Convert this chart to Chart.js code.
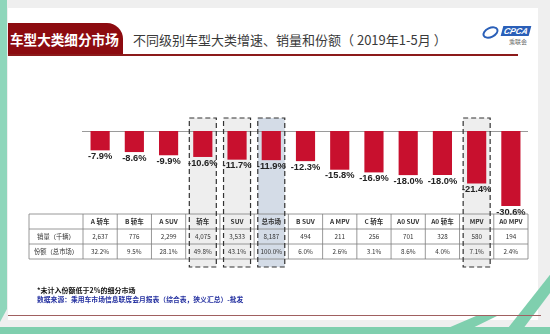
<!DOCTYPE html>
<html>
<head>
<meta charset="utf-8">
<script src="https://cdn.jsdelivr.net/npm/chart.js@4.4.1/dist/chart.umd.min.js"></script>
<style>
  html, body { margin: 0; padding: 0; }
  body { width: 550px; height: 334px; position: relative; overflow: hidden; background: #efefef;
         font-family: "Noto Sans CJK SC", "Noto Sans", sans-serif; }
  #slide { position: absolute; left: 8px; top: 8px; width: 530px; height: 312px; background: #fff; }
  #leftbar { position: absolute; left: 0; top: 0; width: 7px; height: 322px; background: #8fd6bb;
             clip-path: polygon(0 0, 100% 0, 100% 96%, 0 100%); }
  #bottombar { position: absolute; left: 0; top: 327px; width: 550px; height: 7px; background: #7fcfae; }
  .stripe { position: absolute; background: #7fcfae; }
  #tag { position: absolute; left: 8px; top: 23px; width: 115px; height: 32px; background: #8c0b10;
         border-radius: 0 16px 0 0; color: #fff; font-weight: bold; font-size: 13.6px;
         line-height: 32px; padding-left: 2px; box-sizing: border-box; white-space: nowrap; }
  #title { position: absolute; left: 133px; top: 30px; font-size: 13px; color: #3a3a3a; white-space: nowrap; }
  #rule { position: absolute; left: 8px; top: 54px; width: 510px; height: 1.5px; background: #8c1a1a; }
  #foot { position: absolute; left: 8px; top: 315px; width: 533px; height: 1.2px; background: #a06060; }
  #logo { position: absolute; left: 482px; top: 24px; width: 50px; height: 24px; }
  #logo .swirl { position: absolute; left: 0; top: 3px; width: 17px; height: 11px; border: 2px solid #2a5fb8;
                 border-radius: 50%; transform: rotate(-25deg); box-sizing: border-box; }
  #logo .cpca { position: absolute; left: 20px; top: 2px; width: 28px; height: 10px; background: #2a5fb8;
                transform: skewX(-15deg); color: #fff; font: italic bold 8.5px "Liberation Sans", sans-serif;
                text-align: center; line-height: 10px; }
  #logo .cn { position: absolute; left: 27px; top: 13px; font-size: 6px; color: #666; }
  canvas { position: absolute; left: 0; top: 0; }
</style>
</head>
<body>
<div id="slide"></div>
<div id="leftbar"></div>
<div class="stripe" style="left:470px;top:262px;width:90px;height:80px;clip-path:polygon(30% 100%, 100% 0, 100% 22%, 48% 100%);"></div>
<div class="stripe" style="left:420px;top:300px;width:140px;height:40px;clip-path:polygon(0 100%, 40% 40%, 55% 40%, 20% 100%);"></div>
<div id="bottombar"></div>
<div id="tag">车型大类细分市场</div>
<div id="title">不同级别车型大类增速、销量和份额（ 2019年1-5月 ）</div>
<div id="rule"></div>
<div id="foot"></div>
<div id="logo"><div class="swirl"></div><div class="cpca">CPCA</div><div class="cn">乘联会</div></div>
<canvas id="chart" width="550" height="334"></canvas>
<script>
// ── DATA ─────────────────────────────────────────
const categories = ["A 轿车", "B 轿车", "A SUV", "轿车", "SUV", "总市场", "B SUV",
                    "A MPV", "C 轿车", "A0 SUV", "A0 轿车", "MPV", "A0 MPV"];
const growth     = [-7.9, -8.6, -9.9, -10.6, -11.7, -11.9, -12.3,
                    -15.8, -16.9, -18.0, -18.0, -21.4, -30.6];
const sales      = ["2,637", "776", "2,299", "4,075", "3,533", "8,187", "494",
                    "211", "256", "701", "328", "580", "194"];
const shares     = ["32.2%", "9.5%", "28.1%", "49.8%", "43.1%", "100.0%", "6.0%",
                    "2.6%", "3.1%", "8.6%", "4.0%", "7.1%", "2.4%"];
const rowLabels  = ["销量（千辆）", "份额（总市场）"];
const boxed      = ["轿车", "SUV", "总市场", "MPV"];
const totalCat   = "总市场";
const footNotes  = ["*未计入份额低于2%的细分市场",
                    "数据来源：乘用车市场信息联席会月报表（综合表，狭义汇总）-批发"];

const CJK = '"Noto Sans CJK SC", "Noto Sans", sans-serif';

// ── BOXES + ZERO LINE (behind bars) ──────────────
const backdrop = {
  id: "backdrop",
  beforeDatasetsDraw(chart) {
    const { ctx, scales: { x, y } } = chart;
    ctx.save();
    boxed.forEach(c => {
      const cx = x.getPixelForValue(categories.indexOf(c));
      ctx.fillStyle = c === totalCat ? "#d4dce7" : "#eeeeee";
      ctx.fillRect(cx - 13.5, 118, 27, 149);
    });
    ctx.strokeStyle = "#9a9a9a";
    ctx.lineWidth = 1;
    const y0 = Math.round(y.getPixelForValue(0)) + 0.5;
    ctx.beginPath();
    ctx.moveTo(x.left - 1, y0);
    ctx.lineTo(x.right, y0);
    ctx.stroke();
    ctx.restore();
  },
};

// ── LABELS + TABLE ───────────────────────────────
const overlay = {
  id: "overlay",
  afterDatasetsDraw(chart) {
    const { ctx, scales: { x, y } } = chart;
    ctx.save();

    // value labels under the bars
    ctx.fillStyle = "#222";
    ctx.font = 'bold 9.3px "Liberation Sans", sans-serif';
    ctx.textAlign = "center";
    ctx.textBaseline = "top";
    growth.forEach((v, i) => {
      ctx.fillText(v.toFixed(1) + "%", x.getPixelForValue(i), y.getPixelForValue(v) + 1.5);
    });

    // table grid
    const colW = (x.right - x.left) / categories.length;
    const rows = [214, 229, 244, 259];
    const tLeft = 29;
    ctx.strokeStyle = "#7d7d7d";
    ctx.lineWidth = 0.8;
    ctx.beginPath();
    rows.forEach(r => { ctx.moveTo(tLeft, r); ctx.lineTo(x.right, r); });
    ctx.moveTo(tLeft, rows[0]); ctx.lineTo(tLeft, rows[3]);
    for (let i = 0; i <= categories.length; i++) {
      const px = x.left + i * colW;
      ctx.moveTo(px, rows[0]); ctx.lineTo(px, rows[3]);
    }
    ctx.stroke();

    // table text
    ctx.textBaseline = "middle";
    ctx.fillStyle = "#333";
    const mid = k => (rows[k] + rows[k + 1]) / 2;
    categories.forEach((c, i) => {
      const cx = x.getPixelForValue(i);
      ctx.font = "bold 6.5px " + CJK;
      ctx.fillText(c, cx, mid(0));
      ctx.font = "6.3px " + CJK;
      ctx.fillText(sales[i], cx, mid(1));
      ctx.fillText(shares[i], cx, mid(2));
    });
    ctx.font = "6.3px " + CJK;
    rowLabels.forEach((l, k) => ctx.fillText(l, (tLeft + x.left) / 2, mid(k + 1)));

    // dashed boxes on top
    ctx.strokeStyle = "#333";
    ctx.lineWidth = 1.2;
    ctx.setLineDash([5, 3]);
    boxed.forEach(c => {
      const cx = x.getPixelForValue(categories.indexOf(c));
      ctx.strokeRect(cx - 13.5, 118, 27, 149);
    });
    ctx.setLineDash([]);

    // footnotes
    ctx.textAlign = "left";
    ctx.fillStyle = "#111";
    ctx.font = "bold 7px " + CJK;
    ctx.fillText(footNotes[0], 37, 290.5);
    ctx.fillStyle = "#2430a0";
    ctx.font = "bold 6.8px " + CJK;
    ctx.fillText(footNotes[1], 37, 299);
    ctx.restore();
  },
};

// ── CHART ────────────────────────────────────────
new Chart(document.getElementById("chart"), {
  type: "bar",
  data: {
    labels: categories,
    datasets: [{
      data:               growth,
      backgroundColor:    "#c8102e",
      barPercentage:      0.56,
      categoryPercentage: 1,
    }],
  },
  options: {
    responsive: false,
    animation:  false,
    layout: { padding: { left: 83, right: 22, top: 131, bottom: 105 } },
    plugins: { legend: { display: false }, tooltip: { enabled: false } },
    scales: {
      x: { display: false },
      y: { display: false, min: -40, max: 0 },
    },
  },
  plugins: [backdrop, overlay],
});
</script>
</body>
</html>
